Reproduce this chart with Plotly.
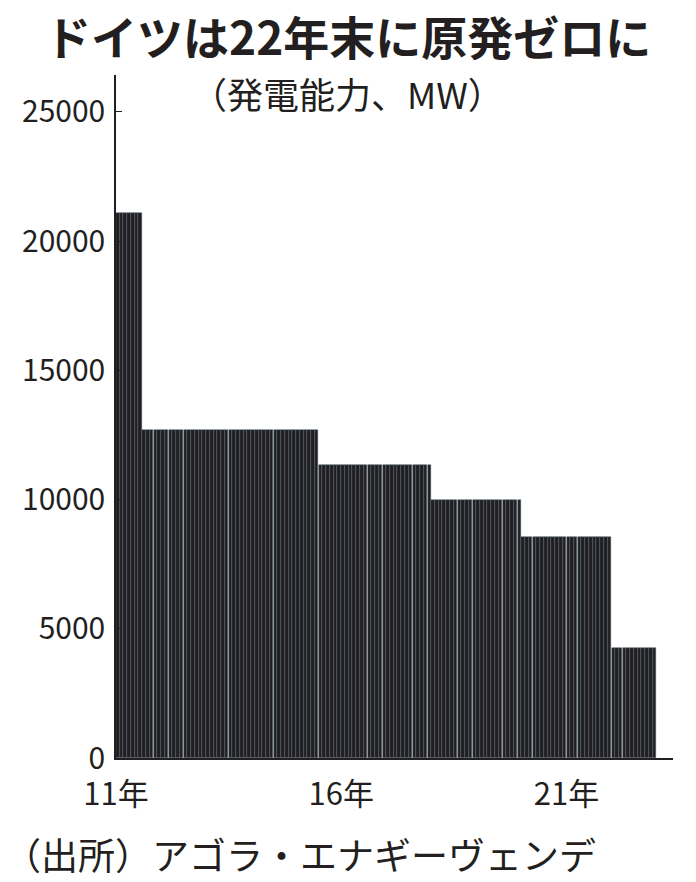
import plotly.graph_objects as go
import pandas as pd

# monthly nuclear capacity in Germany (MW), Jan 2011 - Dec 2022
cap_2011 = [21100, 21100, 21100, 21100, 21100, 21100, 21100, 12690, 12690, 12690, 12690, 12690]
cap_2012 = [12690, 12690, 12690, 12690, 12690, 12690, 12690, 12690, 12690, 12690, 12690, 12690]
cap_2013 = [12690, 12690, 12690, 12690, 12690, 12690, 12690, 12690, 12690, 12690, 12690, 12690]
cap_2014 = [12690, 12690, 12690, 12690, 12690, 12690, 12690, 12690, 12690, 12690, 12690, 12690]
cap_2015 = [12690, 12690, 12690, 12690, 12690, 12690, 11340, 11340, 11340, 11340, 11340, 11340]
cap_2016 = [11340, 11340, 11340, 11340, 11340, 11340, 11340, 11340, 11340, 11340, 11340, 11340]
cap_2017 = [11340, 11340, 11340, 11340, 11340, 11340, 11340, 11340, 11340, 11340, 11340, 11340]
cap_2018 = [9980, 9980, 9980, 9980, 9980, 9980, 9980, 9980, 9980, 9980, 9980, 9980]
cap_2019 = [9980, 9980, 9980, 9980, 9980, 9980, 9980, 9980, 9980, 9980, 9980, 9980]
cap_2020 = [8550, 8550, 8550, 8550, 8550, 8550, 8550, 8550, 8550, 8550, 8550, 8550]
cap_2021 = [8550, 8550, 8550, 8550, 8550, 8550, 8550, 8550, 8550, 8550, 8550, 8550]
cap_2022 = [4260, 4260, 4260, 4260, 4260, 4260, 4260, 4260, 4260, 4260, 4260, 4260]

capacity = (cap_2011 + cap_2012 + cap_2013 + cap_2014 + cap_2015 + cap_2016
            + cap_2017 + cap_2018 + cap_2019 + cap_2020 + cap_2021 + cap_2022)
months = pd.date_range("2011-01-01", periods=len(capacity), freq="MS")

x_tickvals = ["2011-01-01", "2016-01-01", "2021-01-01"]
x_ticktext = ["11年", "16年", "21年"]
y_tickvals = [0, 5000, 10000, 15000, 20000, 25000]
y_ticktext = ["0", "5000", "10000", "15000", "20000", "25000"]

TITLE = "ドイツは22年末に原発ゼロに"
SUBTITLE = "（発電能力、MW）"
SOURCE = "（出所）アゴラ・エナギーヴェンデ"

JP = "Noto Sans CJK JP"
INK = "#231f20"

fig = go.Figure(go.Bar(
    x=months, y=capacity,
    xperiod="M1", xperiodalignment="middle",
    marker={"color": INK, "line": {"color": "#4d6173", "width": 0.5}},
))

fig.update_layout(
    width=696, height=882,
    margin={"l": 116, "r": 23, "t": 75, "b": 124},
    paper_bgcolor="white", plot_bgcolor="white",
    bargap=0, showlegend=False,
    font={"family": JP, "color": INK},
)
fig.update_xaxes(
    range=["2011-01-01", "2023-05-15"],
    tickvals=x_tickvals, ticktext=x_ticktext,
    tickfont={"family": JP, "size": 31},
    showline=True, linecolor=INK, linewidth=1.5,
    showgrid=False, ticks="", zeroline=False, automargin=False,
    ticklabelstandoff=8,
)
fig.update_yaxes(
    range=[0, 26430],
    tickvals=y_tickvals, ticktext=y_ticktext,
    tickfont={"family": JP, "size": 30},
    showline=True, linecolor=INK, linewidth=1.5,
    ticks="inside", ticklen=6, tickcolor=INK,
    showgrid=False, zeroline=False, automargin=False,
    ticklabelstandoff=3,
)

fig.add_annotation(text="<b>" + TITLE + "</b>", xref="paper", yref="paper",
                   x=0.4165, y=1, yshift=40, xanchor="center", yanchor="middle",
                   showarrow=False, font={"family": JP, "size": 46, "color": INK})
fig.add_annotation(text=SUBTITLE, xref="paper", yref="paper",
                   x=0.4165, y=1, yshift=-18, xanchor="center", yanchor="middle",
                   showarrow=False, font={"family": JP, "size": 36, "color": INK})
fig.add_annotation(text=SOURCE, xref="paper", yref="paper",
                   x=0, xshift=-114, y=0, yshift=-96, xanchor="left", yanchor="middle",
                   showarrow=False, font={"family": JP, "size": 37, "color": INK})

# page has a default 8px body margin; drop it so the figure fills the window
fig.write_html("out.html", config={"displayModeBar": False},
               post_script="document.body.style.margin='0';")
